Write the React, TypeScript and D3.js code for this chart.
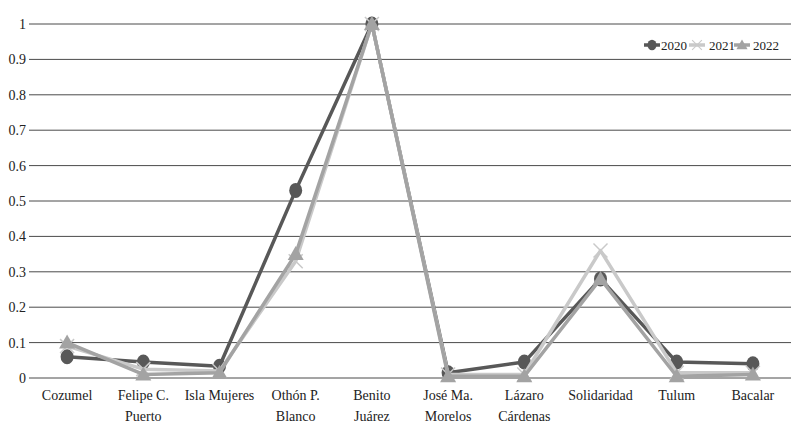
import React from "react";
import * as d3 from "d3";

const categories = [
  ["Cozumel"],
  ["Felipe C.", "Puerto"],
  ["Isla Mujeres"],
  ["Othón P.", "Blanco"],
  ["Benito", "Juárez"],
  ["José Ma.", "Morelos"],
  ["Lázaro", "Cárdenas"],
  ["Solidaridad"],
  ["Tulum"],
  ["Bacalar"],
];
const s2020 = [0.06, 0.045, 0.033, 0.53, 1.0, 0.015, 0.045, 0.28, 0.045, 0.04];
const s2021 = [0.09, 0.025, 0.02, 0.33, 1.0, 0.01, 0.01, 0.36, 0.015, 0.015];
const s2022 = [0.1, 0.01, 0.015, 0.35, 1.0, 0.005, 0.005, 0.28, 0.005, 0.01];
const yTicks = [0, 0.1, 0.2, 0.3, 0.4, 0.5, 0.6, 0.7, 0.8, 0.9, 1];
const seriesNames = ["2020", "2021", "2022"];

const colors = ["#585858", "#c9c9c9", "#a3a3a3"];
const FONT = "Liberation Serif, DejaVu Serif, Times New Roman, serif";

function Marker({ kind, x, y, color }: { kind: number; x: number; y: number; color: string }) {
  if (kind === 0) return <ellipse cx={x} cy={y} rx={6.5} ry={7.5} fill={color} />;
  if (kind === 1) {
    const r = 7;
    return (
      <g stroke={color} strokeWidth={1.5}>
        <line x1={x - r} y1={y - r} x2={x + r} y2={y + r} />
        <line x1={x - r} y1={y + r} x2={x + r} y2={y - r} />
      </g>
    );
  }
  const s = 8;
  return <path d={`M${x},${y - s}L${x + s},${y + s * 0.75}L${x - s},${y + s * 0.75}Z`} fill={color} />;
}

export default function App() {
  const x0 = 29, x1 = 791, yTop = 24, yBot = 378;
  const xb = d3.scaleBand<number>().domain(d3.range(categories.length)).range([x0, x1]);
  const y = d3.scaleLinear().domain([0, 1]).range([yBot, yTop]);
  const cx = (i: number) => (xb(i) as number) + xb.bandwidth() / 2;
  const line = d3.line<number>().x((_, i) => cx(i)).y((d) => y(d));
  const all = [s2020, s2021, s2022];

  const legendItems = [
    { mx: 652, tx: 661 },
    { mx: 697, tx: 709 },
    { mx: 742, tx: 753 },
  ];

  return (
    <svg width={800} height={440} style={{ position: "fixed", left: 0, top: 0, background: "#fff", fontFamily: FONT }}>
      {yTicks.map((t) => (
        <g key={t}>
          <line x1={x0} x2={x1} y1={y(t)} y2={y(t)} stroke="#4a4a4a" strokeWidth={1} />
          <text x={26} y={y(t)} dy="0.35em" textAnchor="end" fontSize={14} fill="#222" style={{ fontFamily: FONT }}>
            {t}
          </text>
        </g>
      ))}
      {categories.map((lines, i) => (
        <text key={i} textAnchor="middle" fontSize={14} fill="#222" style={{ fontFamily: FONT }}>
          {lines.map((l, j) => (
            <tspan key={j} x={cx(i)} y={400 + j * 21}>
              {l}
            </tspan>
          ))}
        </text>
      ))}
      {all.map((s, k) => (
        <g key={k}>
          <path d={line(s) || ""} fill="none" stroke={colors[k]} strokeWidth={3.5} strokeLinejoin="round" />
          {s.map((v, i) => (
            <Marker key={i} kind={k} x={cx(i)} y={y(v)} color={colors[k]} />
          ))}
        </g>
      ))}
      {seriesNames.map((n, k) => (
        <g key={n}>
          <line x1={legendItems[k].mx - 8} x2={legendItems[k].mx + 8} y1={45} y2={45} stroke={colors[k]} strokeWidth={3.5} />
          <g transform={`translate(${legendItems[k].mx},45) scale(0.7)`}>
            <Marker kind={k} x={0} y={0} color={colors[k]} />
          </g>
          <text x={legendItems[k].tx} y={45} dy="0.35em" fontSize={13} fill="#222" style={{ fontFamily: FONT }}>
            {n}
          </text>
        </g>
      ))}
    </svg>
  );
}
